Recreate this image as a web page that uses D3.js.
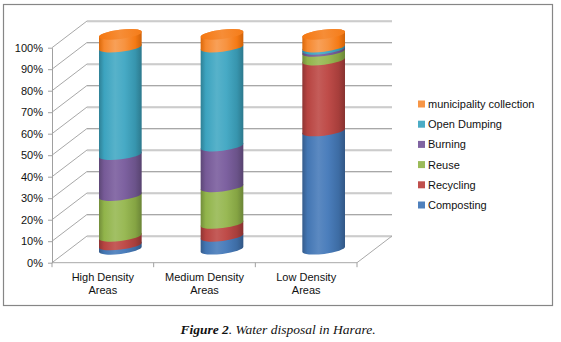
<!DOCTYPE html>
<html>
<head>
<meta charset="utf-8">
<script src="https://cdn.jsdelivr.net/npm/d3@7"></script>
<style>
  html, body { margin: 0; padding: 0; background: #fff; }
  svg { display: block; }
</style>
</head>
<body>
<script>
// Waste disposal shares by residential density (100% stacked cylinders)
const categories = ["High Density Areas", "Medium Density Areas", "Low Density Areas"];
const categoryLines = [["High Density", "Areas"], ["Medium Density", "Areas"], ["Low Density", "Areas"]];
const seriesNames = ["Composting", "Recycling", "Reuse", "Burning", "Open Dumping", "municipality collection"];
const composting = [2, 6, 55];
const recycling = [4, 6, 33];
const reuse = [19, 17, 4];
const burning = [19, 19, 1];
const openDumping = [50, 46, 1];
const municipality = [6, 6, 6];
const seriesValues = [composting, recycling, reuse, burning, openDumping, municipality];
const seriesColors = ["#4F81BD", "#C0504D", "#9BBB59", "#8064A2", "#4BACC6", "#F79646"];
const yTicks = [0, 0.1, 0.2, 0.3, 0.4, 0.5, 0.6, 0.7, 0.8, 0.9, 1];
const caption = { bold: "Figure 2", rest: ". Water disposal in Harare." };

const W = 561, H = 342;
const svg = d3.select("body").append("svg").attr("width", W).attr("height", H);
const defs = svg.append("defs");

// 3D projection: depth offset of the back wall
const depthX = 35, depthY = -26.7;
const x = d3.scaleBand().domain(categories).range([52, 357]);
const y = d3.scaleLinear().domain([0, 1]).range([262.7, 47.7]);
const sansFont = "'Liberation Sans', Arial, sans-serif";

// chart frame
svg.append("rect").attr("x", 3.5).attr("y", 4.5).attr("width", 549).attr("height", 301)
  .attr("fill", "#fff").attr("stroke", "#868686").attr("stroke-width", 1.2);

// back wall gridlines and side-wall diagonals
const grid = svg.append("g");
yTicks.forEach(t => {
  const yf = y(t), yb = y(t) + depthY;
  grid.append("line").attr("x1", x.range()[0] + depthX).attr("x2", x.range()[1] + depthX)
    .attr("y1", yb + 1).attr("y2", yb + 1).attr("stroke", "#e2e2e2").attr("stroke-width", 1);
  grid.append("line").attr("x1", x.range()[0] + depthX).attr("x2", x.range()[1] + depthX)
    .attr("y1", yb).attr("y2", yb).attr("stroke", "#a8a8a8").attr("stroke-width", 1);
  grid.append("line").attr("x1", x.range()[0]).attr("y1", yf)
    .attr("x2", x.range()[0] + depthX).attr("y2", yb).attr("stroke", "#a8a8a8").attr("stroke-width", 1);
});
// floor right edge
grid.append("line").attr("x1", x.range()[1]).attr("y1", y(0))
  .attr("x2", x.range()[1] + depthX).attr("y2", y(0) + depthY).attr("stroke", "#a8a8a8");
// floor front edge
grid.append("line").attr("x1", x.range()[0]).attr("x2", x.range()[1])
  .attr("y1", y(0)).attr("y2", y(0)).attr("stroke", "#a8a8a8");

// value axis
const yAxis = svg.append("g").attr("transform", `translate(${x.range()[0]},0)`)
  .call(d3.axisLeft(y).tickValues(yTicks).tickFormat(d3.format(".0%")).tickSize(4).tickSizeOuter(0).tickPadding(5));
yAxis.select(".domain").attr("stroke", "#a0a0a0");
yAxis.selectAll(".tick line").attr("stroke", "#a0a0a0");
yAxis.selectAll("text").attr("font-family", sansFont).attr("font-size", 11).attr("fill", "#111");

// category axis: boundary ticks + two-line labels
const catTicks = categories.map(c => x(c)).concat([x.range()[1]]);
svg.append("g").selectAll("line").data(catTicks).join("line")
  .attr("x1", d => d).attr("x2", d => d).attr("y1", y(0)).attr("y2", y(0) + 4.5).attr("stroke", "#a0a0a0");
const xAxis = svg.append("g").attr("transform", `translate(0,${y(0)})`)
  .call(d3.axisBottom(x).tickSize(0).tickFormat(() => ""));
xAxis.select(".domain").remove();
xAxis.selectAll(".tick").each(function(d, i) {
  const t = d3.select(this).append("text").attr("text-anchor", "middle")
    .attr("font-family", sansFont).attr("font-size", 11).attr("fill", "#111");
  categoryLines[i].forEach((line, j) => {
    t.append("tspan").attr("x", 0).attr("y", 18 + j * 13.4).text(line);
  });
});

// gradients giving the cylinders their rounded shading
function shade(c, k) {
  const h = d3.hsl(c);
  h.l = Math.max(0, Math.min(1, h.l * k));
  return h.formatHex();
}
seriesColors.forEach((c, i) => {
  const g = defs.append("linearGradient").attr("id", "side" + i)
    .attr("x1", 0).attr("x2", 1).attr("y1", 0).attr("y2", 0);
  [[0, 0.72], [0.12, 0.92], [0.38, 1.06], [0.6, 0.98], [0.85, 0.84], [1, 0.68]].forEach(([o, k]) =>
    g.append("stop").attr("offset", o).attr("stop-color", shade(c, k)));
  const t = defs.append("linearGradient").attr("id", "top" + i)
    .attr("x1", 0).attr("x2", 1).attr("y1", 0).attr("y2", 0);
  [[0, 0.82], [0.5, 0.95], [1, 0.85]].forEach(([o, k]) =>
    t.append("stop").attr("offset", o).attr("stop-color", shade(c, k)));
});

// cylinders
const rx = 21.5, ry = 4.6, tilt = -7;
const ax = rx * Math.cos(tilt * Math.PI / 180), ay = rx * Math.sin(tilt * Math.PI / 180);
const stacks = d3.stack().keys(d3.range(seriesNames.length))
  .value((d, k) => seriesValues[k][d] / 100)(d3.range(categories.length));

const cyl = svg.append("g");
categories.forEach((c, ci) => {
  const cx = x(c) + x.bandwidth() / 2 + depthX / 2;
  const yc = v => y(v) + depthY / 2;
  stacks.forEach((layer, si) => {
    const [v0, v1] = layer[ci];
    if (v1 - v0 <= 0) return;
    const yb = yc(v0), yt = yc(v1);
    const p = `M${cx - ax},${yt - ay} L${cx - ax},${yb - ay} ` +
      `A${rx},${ry} ${tilt} 0 0 ${cx + ax},${yb + ay} ` +
      `L${cx + ax},${yt + ay} ` +
      `A${rx},${ry} ${tilt} 0 0 ${cx - ax},${yt - ay} Z`;
    cyl.append("path").attr("d", p).attr("fill", `url(#side${si})`);
  });
  // top face of the highest segment
  const top = stacks.length - 1;
  const yt = yc(stacks[top][ci][1]);
  cyl.append("ellipse").attr("cx", 0).attr("cy", 0).attr("rx", rx).attr("ry", ry)
    .attr("transform", `translate(${cx},${yt}) rotate(${tilt})`)
    .attr("fill", `url(#top${top})`);
});

// legend (drawn top to bottom in reverse series order)
const legend = svg.append("g").attr("transform", "translate(418,100.5)");
const order = d3.range(seriesNames.length).reverse();
order.forEach((si, r) => {
  const g = legend.append("g").attr("transform", `translate(0,${r * 20.2})`);
  g.append("rect").attr("width", 7).attr("height", 7).attr("fill", seriesColors[si]);
  g.append("text").attr("x", 10).attr("y", 7.5).attr("font-family", sansFont).attr("font-size", 11)
    .attr("fill", "#111").text(seriesNames[si]);
});

// caption
const cap = svg.append("text").attr("x", 278).attr("y", 333.5).attr("text-anchor", "middle")
  .attr("font-family", "'Liberation Serif', 'Times New Roman', serif").attr("font-size", 13.5)
  .attr("font-style", "italic").attr("fill", "#111");
cap.append("tspan").attr("font-weight", "bold").text(caption.bold);
cap.append("tspan").text(caption.rest);
</script>
</body>
</html>
